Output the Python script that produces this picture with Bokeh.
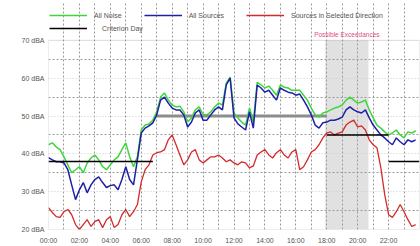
from bokeh.plotting import figure
from bokeh.models import (Legend, LegendItem, FixedTicker, BoxAnnotation, Label,
                          Range1d, PrintfTickFormatter)
from bokeh.embed import file_html
from bokeh.resources import INLINE

# ---- data (15-minute intervals, dBA) ----
hours = [i * 0.25 for i in range(96)]

all_noise = [
    42.4, 42.9, 41.8, 41.1, 39.2, 37.1, 35.0, 35.8, 36.6, 35.0, 37.6, 38.9,
    39.7, 38.4, 36.6, 35.8, 37.1, 38.4, 39.2, 41.1, 42.9, 39.2, 36.6, 39.2,
    46.3, 47.6, 47.9, 48.9, 51.1, 55.0, 56.1, 54.2, 52.9, 52.4, 52.6, 51.1,
    48.4, 49.5, 51.6, 52.4, 50.3, 50.3, 51.1, 52.4, 53.4, 52.9, 58.7, 60.3,
    50.8, 49.5, 48.4, 47.6, 52.1, 48.4, 58.9, 58.2, 57.4, 57.9, 56.8, 55.5,
    58.2, 57.6, 57.4, 56.8, 56.8, 56.8, 55.5, 54.2, 52.1, 50.3, 49.7, 50.8,
    51.1, 51.6, 52.1, 52.4, 52.9, 54.2, 55.0, 54.2, 53.4, 53.7, 54.2, 51.6,
    49.5, 47.6, 46.8, 45.8, 45.0, 45.5, 46.3, 45.0, 44.2, 45.8, 45.5, 46.1,
]
all_sources = [
    39.0, 38.4, 37.9, 37.9, 37.6, 35.8, 31.8, 27.9, 30.5, 32.4, 29.7, 31.8,
    33.2, 33.9, 32.4, 31.1, 31.6, 31.8, 30.5, 33.2, 36.6, 33.2, 31.8, 38.4,
    45.5, 46.8, 47.4, 48.2, 50.3, 54.2, 55.0, 53.4, 52.1, 51.6, 51.6, 50.3,
    47.1, 48.4, 50.8, 51.6, 48.9, 48.9, 50.3, 51.6, 52.4, 51.6, 58.2, 60.0,
    49.5, 47.9, 47.1, 46.3, 51.1, 46.8, 58.2, 57.4, 56.3, 56.8, 55.5, 54.2,
    57.4, 56.8, 56.3, 56.1, 55.5, 55.8, 54.2, 52.4, 50.3, 47.6, 46.8, 48.2,
    48.4, 48.9, 48.9, 49.2, 49.7, 51.6, 52.4, 51.6, 51.1, 50.8, 51.6, 49.5,
    47.6, 46.3, 45.0, 44.2, 43.2, 42.4, 44.2, 43.2, 42.4, 43.7, 43.2, 43.7,
]
selected_dir = [
    25.8, 24.5, 23.4, 23.2, 24.7, 25.3, 23.9, 21.3, 20.0, 21.3, 22.6, 20.8,
    22.1, 22.6, 20.5, 22.6, 23.4, 20.5, 21.3, 23.9, 25.3, 23.4, 24.7, 26.6,
    32.6, 35.8, 37.1, 39.7, 40.3, 40.5, 41.1, 43.7, 45.0, 42.4, 39.7, 37.1,
    38.4, 40.5, 41.1, 38.4, 37.6, 38.4, 39.2, 39.2, 39.7, 38.9, 37.9, 38.4,
    37.6, 37.1, 37.9, 37.6, 36.3, 36.8, 39.7, 40.5, 41.1, 39.7, 38.9, 40.3,
    41.1, 39.7, 38.9, 40.5, 41.1, 35.8, 36.6, 38.4, 40.5, 41.1, 42.4, 44.2,
    45.5, 45.8, 45.0, 45.5, 45.8, 47.6, 48.4, 48.9, 47.1, 47.4, 46.3, 43.7,
    42.4, 41.6, 36.3, 29.2, 23.9, 23.2, 24.7, 26.6, 24.7, 22.6, 20.8, 21.3,
]

# criterion levels
crit_night1_h = [0, 6.75]
crit_night1_v = [38, 38]
crit_day_h = [7, 18]
crit_day_v = [50, 50]
crit_eve_h = [18, 22]
crit_eve_v = [45, 45]
crit_night2_h = [22, 24]
crit_night2_v = [38, 38]

exceed_start, exceed_end = 17.9, 20.7

y_min, y_max = 20, 70
y_ticks = [20, 30, 40, 50, 60, 70]
x_ticks = [0, 2, 4, 6, 8, 10, 12, 14, 16, 18, 20, 22]
x_labels = {t: f"{t:02d}:00" for t in x_ticks}

FONT = "Liberation Sans"
TXT = "#555555"

# frame extends above 70 dBA to host the legend; plot box is drawn at 20..70
p = figure(width=420, height=246, x_range=Range1d(0, 24), y_range=Range1d(20, 80),
           output_backend="svg", toolbar_location=None,
           min_border_left=48, min_border_right=1, min_border_top=2,
           min_border_bottom=16)
p.background_fill_color = "white"
p.border_fill_color = "white"
p.outline_line_color = None

p.xaxis.ticker = FixedTicker(ticks=x_ticks)
p.xaxis.major_label_overrides = x_labels
p.yaxis.ticker = FixedTicker(ticks=y_ticks)
p.yaxis.formatter = PrintfTickFormatter(format="%d dBA")
for ax in (p.xaxis[0], p.yaxis[0]):
    ax.axis_line_color = None
    ax.major_tick_line_color = None
    ax.minor_tick_line_color = None
    ax.major_tick_out = 0
    ax.major_tick_in = 0
    ax.minor_tick_out = 0
    ax.minor_tick_in = 0
    ax.major_label_text_font = FONT
    ax.major_label_text_font_size = "7px"
    ax.major_label_text_color = TXT
p.xaxis.major_label_standoff = 7
p.yaxis.major_label_standoff = 4

p.xgrid.ticker = FixedTicker(ticks=list(range(1, 24)))
p.xgrid.bounds = (y_min, y_max)
p.xgrid.grid_line_color = "#9a9a9a"
p.xgrid.grid_line_dash = "2 2"
p.ygrid.ticker = FixedTicker(ticks=[30, 40, 50, 60],
                             minor_ticks=[25, 35, 45, 55, 65])
p.ygrid.grid_line_color = "#cccccc"
p.ygrid.grid_line_dash = "1 2"
p.ygrid.minor_grid_line_color = "#9a9a9a"
p.ygrid.minor_grid_line_dash = "2 2"

p.add_layout(BoxAnnotation(left=exceed_start, right=exceed_end, bottom=y_min, top=y_max,
                           fill_color="#b4b4b4", fill_alpha=0.4, line_color=None,
                           level="image"))
p.add_layout(BoxAnnotation(left=0, right=24, bottom=y_min, top=y_max, fill_alpha=0,
                           line_color="#888888", line_width=1))
p.add_layout(Label(x=(exceed_start + exceed_end) / 2, y=71.6,
                   text="Possible Exceedances", text_font=FONT, text_font_size="6.5px",
                   text_color="#e0507a", text_align="center", text_baseline="middle"))

r_day = p.line(crit_day_h, crit_day_v, line_color="#8c8c8c", line_width=3)
r_green = p.line(hours, all_noise, line_color="#3dd63d", line_width=1.5)
r_blue = p.line(hours, all_sources, line_color="#1f1fa8", line_width=1.5)
r_red = p.line(hours, selected_dir, line_color="#d42a2a", line_width=1.3)
r_n1 = p.line(crit_night1_h, crit_night1_v, line_color="black", line_width=1.5)
r_eve = p.line(crit_eve_h, crit_eve_v, line_color="black", line_width=1.5)
r_n2 = p.line(crit_night2_h, crit_night2_v, line_color="black", line_width=1.5)

def mk_legend(items, loc, spacing, standoff):
    return Legend(items=items, location=loc, orientation="horizontal",
                  label_text_font=FONT, label_text_font_size="7px", label_text_color=TXT,
                  glyph_width=38, glyph_height=10, label_standoff=standoff, spacing=spacing,
                  padding=1, margin=0, border_line_color=None, background_fill_alpha=0,
                  label_height=10)

leg1 = mk_legend([LegendItem(label="All Noise", renderers=[r_green]),
                  LegendItem(label="All Sources", renderers=[r_blue]),
                  LegendItem(label="Sources in Selected Direction", renderers=[r_red])],
                 (1, 209), 22, 7)
leg2 = mk_legend([LegendItem(label="Criterion Day", renderers=[r_eve])], (1, 196), 0, 15)
p.add_layout(leg1, "center")
p.add_layout(leg2, "center")

open("out.html", "w").write(file_html(p, INLINE))
